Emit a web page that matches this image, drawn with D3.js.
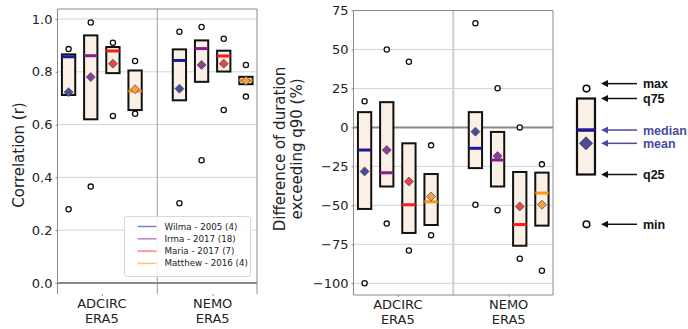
<!DOCTYPE html>
<html><head><meta charset="utf-8">
<script src="https://cdn.jsdelivr.net/npm/d3@7"></script>
<style>
body{margin:0;background:#fff;}
svg{display:block;font-family:"DejaVu Sans",sans-serif;}
</style></head>
<body><svg id="c" width="688" height="329"></svg>
<script>
const models = ["ADCIRC|ERA5", "NEMO|ERA5"];
const storms = ["Wilma - 2005 (4)", "Irma - 2017 (18)", "Maria - 2017 (7)", "Matthew - 2016 (4)"];
const medianColors = ["#1a1a96", "#8b1a8b", "#ff1a1a", "#ff9410"];
const meanColors = ["#4b4b9e", "#8a3f9e", "#e84646", "#f0a040"];

// order: ADCIRC (Wilma, Irma, Maria, Matthew), NEMO (Wilma, Irma, Maria, Matthew)
const corrMin    = [0.279, 0.365, 0.633, 0.641, 0.302, 0.465, 0.655, 0.706];
const corrQ25    = [0.712, 0.620, 0.795, 0.655, 0.692, 0.762, 0.801, 0.753];
const corrMedian = [0.857, 0.861, 0.879, 0.727, 0.843, 0.888, 0.860, 0.768];
const corrMean   = [0.723, 0.780, 0.831, 0.734, 0.736, 0.826, 0.831, 0.766];
const corrQ75    = [0.866, 0.938, 0.894, 0.805, 0.885, 0.919, 0.880, 0.781];
const corrMax    = [0.886, 0.987, 0.910, 0.841, 0.952, 0.970, 0.925, 0.826];
const corrTicks  = [0.0, 0.2, 0.4, 0.6, 0.8, 1.0];

const durMin    = [-100, -61.7, -79.0, -69.1, -49.6, -53.1, -84.2, -91.9];
const durQ25    = [-52.3, -37.9, -67.7, -62.6, -26.1, -37.9, -75.9, -63.0];
const durMedian = [-14.5, -29.1, -49.6, -47.7, -13.4, -20.9, -62.3, -42.1];
const durMean   = [-28.2, -14.5, -34.7, -44.3, -2.7, -18.3, -50.7, -49.6];
const durQ75    = [9.8, 16.2, -10.2, -29.9, 9.8, -2.9, -28.6, -29.0];
const durMax    = [16.8, 50.0, 42.1, -11.5, 66.8, 25.1, 0.0, -23.7];
const durTicks  = [-100, -75, -50, -25, 0, 25, 50, 75];

const keyLabels = ["max", "q75", "median", "mean", "q25", "min"];
const keyValues = [1.13, 1.0, 0.585, 0.41, 0.0, -0.655];

const svg = d3.select("#c");
const pos = i => Math.floor(i / 4) * 5 + (i % 4);

function panel(o) {
  const x = d3.scaleLinear().domain([-0.5, 8.5]).range([o.x0, o.x1]);
  const y = d3.scaleLinear().domain(o.ydom).range([o.y1, o.y0]);
  const g = svg.append("g");
  g.selectAll(".grid").data(o.ticks).join("line")
    .attr("x1", o.x0).attr("x2", o.x1)
    .attr("y1", d => y(d)).attr("y2", d => y(d))
    .attr("stroke", "#d4d4d4").attr("stroke-width", 1);
  g.append("line").attr("x1", x(4)).attr("x2", x(4)).attr("y1", o.y0).attr("y2", o.y1)
    .attr("stroke", o.sepColor).attr("stroke-width", o.sepWidth);
  g.append("line").attr("x1", o.x0).attr("x2", o.x1).attr("y1", y(0)).attr("y2", y(0))
    .attr("stroke", "#8a8a8a").attr("stroke-width", 2);
  g.append("path").attr("fill", "none").attr("stroke", "#8a8a8a").attr("stroke-width", 1)
    .attr("d", `M${o.x0},${o.y1}V${o.y0}H${o.x1}V${o.y1}` + (o.bottom ? `H${o.x0}` : ""));
  const ya = d3.axisLeft(y).tickValues(o.ticks).tickSize(2).tickPadding(3).tickFormat(o.fmt);
  const ag = g.append("g").attr("transform", `translate(${o.x0},0)`).call(ya);
  ag.select(".domain").remove();
  ag.selectAll("line").attr("stroke", "#8a8a8a");
  ag.selectAll("text").attr("font-size", 13).attr("fill", "#222").attr("font-family", "DejaVu Sans");
  const xa = d3.axisBottom(x).tickValues([1.5, 6.5]).tickSize(2).tickFormat("");
  const xg = g.append("g").attr("transform", `translate(0,${o.y1})`).call(xa);
  xg.select(".domain").remove();
  xg.selectAll("line").attr("stroke", "#8a8a8a");
  models.forEach((m, j) => {
    const t = g.append("text").attr("x", x(1.5 + 5 * j)).attr("text-anchor", "middle")
      .attr("font-size", 13).attr("fill", "#222");
    m.split("|").forEach((s, k) => t.append("tspan").attr("x", x(1.5 + 5 * j))
      .attr("y", o.y1 + 14 + k * 15).text(s));
  });
  const idx = d3.range(8);
  const bw = x(0.3) - x(0);
  g.selectAll(".box").data(idx).join("rect")
    .attr("x", i => x(pos(i)) - bw).attr("width", 2 * bw)
    .attr("y", i => y(o.q75[i])).attr("height", i => y(o.q25[i]) - y(o.q75[i]))
    .attr("fill", "#faf0e6").attr("stroke", "#111").attr("stroke-width", 2);
  g.selectAll(".med").data(idx).join("line")
    .attr("x1", i => x(pos(i)) - bw).attr("x2", i => x(pos(i)) + bw)
    .attr("y1", i => y(o.med[i])).attr("y2", i => y(o.med[i]))
    .attr("stroke", i => medianColors[i % 4]).attr("stroke-width", 3);
  g.selectAll(".mean").data(idx).join("path")
    .attr("transform", i => `translate(${x(pos(i))},${y(o.mean[i])})`)
    .attr("d", "M0,-4.5L4.5,0L0,4.5L-4.5,0Z")
    .attr("fill", i => meanColors[i % 4]).attr("stroke", "#444").attr("stroke-width", 0.7);
  ["min", "max"].forEach(k => {
    g.selectAll(".c" + k).data(idx).join("circle")
      .attr("cx", i => x(pos(i))).attr("cy", i => y(o[k][i])).attr("r", 2.6)
      .attr("fill", "#fff").attr("stroke", "#111").attr("stroke-width", 1.3);
  });
  return { x, y, g };
}

panel({ x0: 57.5, x1: 257, y0: 9, y1: 294, ydom: [-0.042, 1.038], ticks: corrTicks,
  fmt: d3.format(".1f"), min: corrMin, q25: corrQ25, med: corrMedian, mean: corrMean, q75: corrQ75, max: corrMax,
  sepColor: "#999", sepWidth: 1, bottom: false });
svg.append("text").attr("transform", "translate(24,155) rotate(-90)").attr("text-anchor", "middle")
  .attr("font-size", 15).attr("fill", "#222").text("Correlation (r)");

const lg = svg.append("g").attr("transform", "translate(124.5,216.5)");
lg.append("rect").attr("width", 126).attr("height", 60).attr("rx", 2)
  .attr("fill", "#fff").attr("fill-opacity", 0.85).attr("stroke", "#d8d8d8");
storms.forEach((s, k) => {
  lg.append("line").attr("x1", 13).attr("x2", 32).attr("y1", 10 + k * 12.3).attr("y2", 10 + k * 12.3)
    .attr("stroke", medianColors[k]).attr("stroke-opacity", 0.55).attr("stroke-width", 1.5);
  lg.append("text").attr("x", 40).attr("y", 13 + k * 12.3).attr("font-size", 8.7).attr("fill", "#222").text(s);
});

panel({ x0: 353.5, x1: 553, y0: 10.5, y1: 295, ydom: [-107.5, 75], ticks: durTicks,
  fmt: d => d < 0 ? "\u2212" + Math.abs(d) : "" + d, min: durMin, q25: durQ25, med: durMedian, mean: durMean, q75: durQ75, max: durMax,
  sepColor: "#cfcfcf", sepWidth: 2, bottom: true });
const yl = svg.append("text").attr("transform", "translate(285,149) rotate(-90)").attr("text-anchor", "middle")
  .attr("font-size", 15).attr("fill", "#222");
yl.append("tspan").attr("x", 0).attr("y", 0).text("Difference of duration");
yl.append("tspan").attr("x", 0).attr("y", 17).text("exceeding q90 (%)");

// key diagram
const ky = d3.scaleLinear().domain([0, 1]).range([174.5, 98.5]);
const kx = 586;
const kg = svg.append("g");
kg.append("rect").attr("x", kx - 9).attr("width", 18).attr("y", ky(keyValues[1])).attr("height", ky(keyValues[4]) - ky(keyValues[1]))
  .attr("fill", "#faf0e6").attr("stroke", "#111").attr("stroke-width", 2.2);
kg.append("line").attr("x1", kx - 9).attr("x2", kx + 9).attr("y1", ky(keyValues[2])).attr("y2", ky(keyValues[2]))
  .attr("stroke", "#1a1a96").attr("stroke-width", 3.5);
kg.append("path").attr("transform", `translate(${kx},${ky(keyValues[3])})`).attr("d", "M0,-6.5L6.5,0L0,6.5L-6.5,0Z")
  .attr("fill", "#4b4b9e").attr("stroke", "#333").attr("stroke-width", 0.8);
[0, 5].forEach(k => kg.append("circle").attr("cx", kx + 0.5).attr("cy", ky(keyValues[k])).attr("r", 3.3)
  .attr("fill", "#fff").attr("stroke", "#111").attr("stroke-width", 1.6));
const defs = svg.append("defs");
[["ab", "#111"], ["ap", "#4b4b9e"]].forEach(([id, c]) => defs.append("marker").attr("id", id)
  .attr("viewBox", "0 0 10 10").attr("refX", 0).attr("refY", 5).attr("markerWidth", 7).attr("markerHeight", 7)
  .attr("markerUnits", "userSpaceOnUse").attr("orient", "auto-start-reverse")
  .append("path").attr("d", "M0,0L10,5L0,10Z").attr("fill", c));
keyLabels.forEach((t, k) => {
  const c = (k === 2 || k === 3) ? "#4b4b9e" : "#111";
  const yy = ky(keyValues[k]) + (k === 0 ? -5 : 0);
  kg.append("line").attr("x1", 637).attr("x2", 608).attr("y1", yy).attr("y2", yy)
    .attr("stroke", c).attr("stroke-width", 1.5).attr("marker-end", `url(#${k === 2 || k === 3 ? "ap" : "ab"})`);
  kg.append("text").attr("x", 643).attr("y", yy + 4.5).attr("font-size", 12.5).attr("font-weight", "bold")
    .attr("font-family", "Liberation Sans, Arial, sans-serif").attr("fill", c).text(t);
});
</script></body></html>
